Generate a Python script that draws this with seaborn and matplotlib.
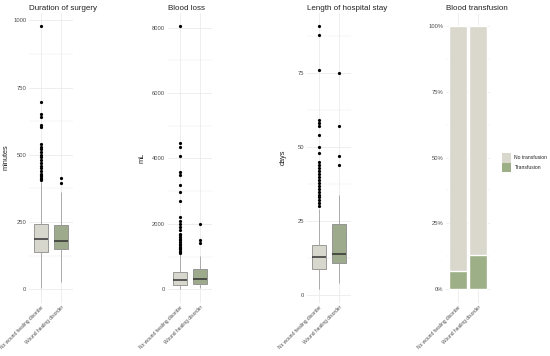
import numpy as np
import pandas as pd
import seaborn as sns
import matplotlib
matplotlib.use('Agg')
import matplotlib.pyplot as plt
from matplotlib.patches import Patch

# groups
groups = ["No wound healing disorder", "Wound healing disorder"]

# box summaries: [whisker low, q1, median, q3, whisker high]
duration_box = [[5, 138, 188, 243, 400], [27, 149, 180, 238, 360]]
duration_out = [[405, 410, 415, 420, 425, 430, 440, 450, 460, 470, 480, 490, 500,
                 510, 520, 530, 540, 602, 610, 642, 652, 696, 980],
                [397, 412]]

bloodloss_box = [[0, 130, 300, 518, 1090], [50, 160, 325, 620, 1015]]
bloodloss_out = [[1120, 1150, 1180, 1220, 1260, 1300, 1350, 1400, 1450, 1500, 1550,
                  1600, 1650, 1700, 1800, 1900, 2010, 2100, 2200, 2700, 2990, 3200,
                  3500, 3600, 4090, 4340, 4480, 8060],
                 [1420, 1520, 2010]]

stay_box = [[2, 9, 13, 17, 29], [4, 11, 14, 24, 34]]
stay_out = [[30, 31, 32, 33, 34, 35, 36, 37, 38, 39, 40, 41, 42, 43, 44, 45,
             48, 50, 54, 57, 58, 59, 76, 88, 91],
            [44, 47, 57, 75]]

# share of patients with transfusion
transfusion = [0.069, 0.132]

beige = "#DAD8CC"
green = "#9DAF87"
grid_col = "#EBEBEB"
txt_col = "#4D4D4D"

sns.set_theme(style="white")
plt.rcParams['font.family'] = ['Liberation Sans', 'DejaVu Sans']

W, H = 550, 356


def make_df(boxes, outs):
    # rebuild a sample whose quartiles / whiskers / outliers match the summary
    rows = []
    for g, box, out in zip(groups, boxes, outs):
        w = 3 * len(out) + 1
        vals = list(np.repeat(box, w)) + list(out)
        rows += [(g, v) for v in vals]
    return pd.DataFrame(rows, columns=["group", "value"])


def style_axis(ax, left, ylim, major, minor, labels, title, ylabel, ylab_x):
    ax.set_xlim(-0.6, 1.6)
    ax.set_ylim(*ylim)
    ax.set_yticks(major)
    ax.set_yticklabels(labels)
    ax.set_yticks(minor, minor=True)
    ax.grid(True, which='major', color=grid_col, lw=0.6)
    ax.grid(True, which='minor', axis='y', color=grid_col, lw=0.35)
    ax.set_axisbelow(True)
    for s in ax.spines.values():
        s.set_visible(False)
    ax.tick_params(axis='y', which='both', length=0, pad=2, labelsize=4.2,
                   labelcolor=txt_col)
    ax.tick_params(axis='x', which='both', length=0, pad=1.5, labelsize=3.5,
                   labelcolor=txt_col)
    ax.set_xticks([0, 1])
    ax.set_xticklabels(groups, rotation=45, ha='right', rotation_mode='anchor')
    ax.set_xlabel("")
    ax.set_ylabel(ylabel, fontsize=5.3, color="#222222")
    # y label placed at the pixel column seen in the picture (+3 px: anchor is the text's right edge)
    ax.yaxis.set_label_coords((ylab_x + 3 - left) / 44, 0.5)
    ax.set_title(title, fontsize=5.8, loc='left', color="#222222", pad=1.5)


fig = plt.figure(figsize=(5.5, 3.56), dpi=100)
bottom = (H - 302.5) / H
height = 290 / H

panels = [
    (29, duration_box, duration_out, (-49, 1029), [0, 250, 500, 750, 1000],
     [125, 375, 625, 875], ["0", "250", "500", "750", "1000"], "Duration of surgery", "minutes", 7),
    (168, bloodloss_box, bloodloss_out, (-403, 8463), [0, 2000, 4000, 6000, 8000],
     [1000, 3000, 5000, 7000], ["0", "2000", "4000", "6000", "8000"], "Blood loss", "mL", 143),
    (307, stay_box, stay_out, (-2.45, 95.45), [0, 25, 50, 75],
     [12.5, 37.5, 62.5, 87.5], ["0", "25", "50", "75"], "Length of hospital stay", "days", 284),
]

for left, boxes, outs, ylim, major, minor, labels, title, ylabel, ylab_x in panels:
    ax = fig.add_axes([left / W, bottom, 44 / W, height])
    df = make_df(boxes, outs)
    sns.boxplot(data=df, x="group", y="value", hue="group", order=groups,
                palette=[beige, green], width=0.7, linewidth=0.6, linecolor="#8C8C8C",
                fliersize=1.3, showcaps=False, legend=False, ax=ax,
                medianprops=dict(color="#333333", linewidth=1.1),
                whiskerprops=dict(color="#A0A0A0", linewidth=0.6),
                flierprops=dict(marker='o', markerfacecolor='black',
                                markeredgecolor='black', markersize=1.3))
    style_axis(ax, left, ylim, major, minor, labels, title, ylabel, ylab_x)

# stacked share bars
ax4 = fig.add_axes([446 / W, bottom, 44 / W, height])
tdf = pd.DataFrame({"group": groups, "all": [1.0, 1.0], "transfusion": transfusion})
sns.barplot(data=tdf, x="group", y="all", color=beige, width=0.9, saturation=1, ax=ax4)
sns.barplot(data=tdf, x="group", y="transfusion", color=green, width=0.9, saturation=1, ax=ax4)
style_axis(ax4, 446, (-0.05, 1.05), [0, 0.25, 0.5, 0.75, 1.0], [0.125, 0.375, 0.625, 0.875],
           ["0%", "25%", "50%", "75%", "100%"], "Blood transfusion", "", 430)

handles = [Patch(facecolor=beige, edgecolor='none'), Patch(facecolor=green, edgecolor='none')]
fig.legend(handles, ["No transfusion", "Transfusion"], loc='center left',
           bbox_to_anchor=(497 / W, 1 - 162.5 / H), frameon=False, fontsize=3.6,
           handlelength=1.9, handleheight=2.6, handletextpad=0.7, labelspacing=0.0,
           labelcolor="#222222")

fig.savefig("out.png", dpi=100)
